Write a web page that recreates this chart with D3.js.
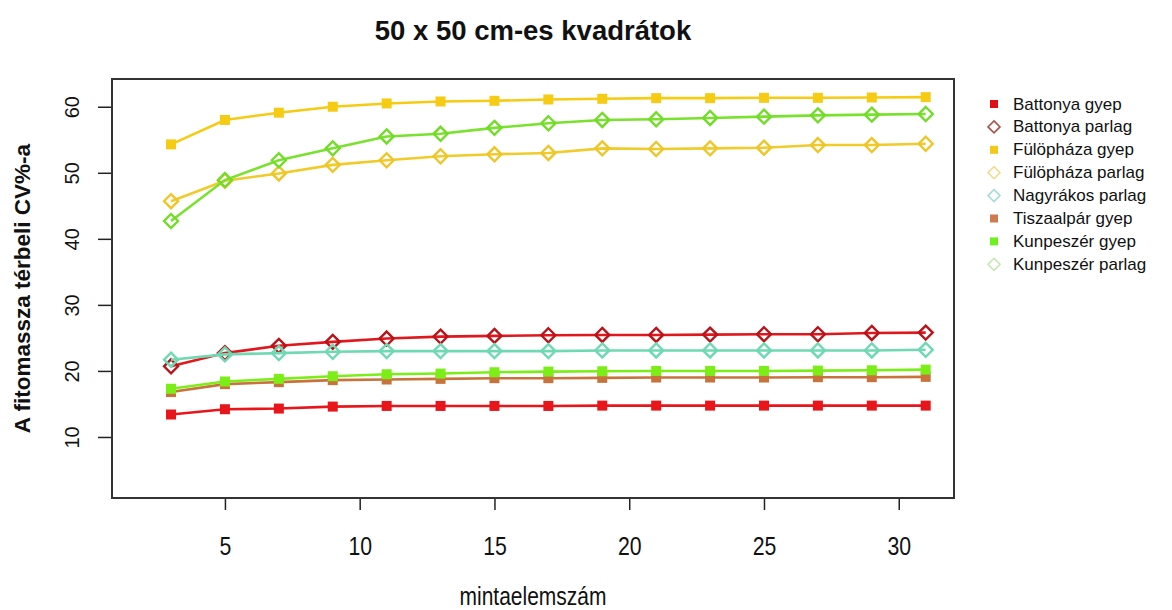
<!DOCTYPE html>
<html>
<head>
<meta charset="utf-8">
<script src="https://cdn.jsdelivr.net/npm/d3@7"></script>
<style>
  body { margin: 0; background: #fff; }
  svg { display: block; }
</style>
</head>
<body>
<svg id="chart" width="1172" height="610"></svg>
<script>
const title = "50 x 50 cm-es kvadrátok";
const xLabel = "mintaelemszám";
const yLabel = "A fitomassza térbeli CV%-a";
const sampleSizes = [3, 5, 7, 9, 11, 13, 15, 17, 19, 21, 23, 25, 27, 29, 31];
const xTicks = [5, 10, 15, 20, 25, 30];
const yTicks = [10, 20, 30, 40, 50, 60];

const seriesNames = ["Battonya gyep", "Battonya parlag", "Fülöpháza gyep", "Fülöpháza parlag",
  "Nagyrákos parlag", "Tiszaalpár gyep", "Kunpeszér gyep", "Kunpeszér parlag"];
const battonyaGyep    = [13.4, 14.2, 14.3, 14.6, 14.7, 14.7, 14.7, 14.7, 14.75, 14.75, 14.75, 14.75, 14.75, 14.75, 14.75];
const battonyaParlag  = [20.7, 22.7, 23.8, 24.4, 24.9, 25.2, 25.3, 25.4, 25.45, 25.45, 25.5, 25.55, 25.55, 25.75, 25.8];
const fulophazaGyep   = [54.3, 58.0, 59.1, 60.0, 60.5, 60.8, 60.9, 61.1, 61.2, 61.3, 61.3, 61.35, 61.35, 61.4, 61.45];
const fulophazaParlag = [45.7, 48.8, 49.9, 51.2, 51.9, 52.5, 52.8, 53.0, 53.7, 53.6, 53.7, 53.8, 54.2, 54.2, 54.4];
const nagyrakosParlag = [21.7, 22.5, 22.7, 22.9, 23.0, 23.0, 23.0, 23.0, 23.1, 23.1, 23.1, 23.1, 23.1, 23.1, 23.2];
const tiszaalparGyep  = [16.8, 18.0, 18.3, 18.6, 18.7, 18.8, 18.9, 18.9, 18.95, 19.0, 19.0, 19.0, 19.05, 19.05, 19.1];
const kunpeszerGyep   = [17.3, 18.4, 18.8, 19.2, 19.5, 19.6, 19.8, 19.9, 19.95, 20.0, 20.0, 20.0, 20.05, 20.1, 20.2];
const kunpeszerParlag = [42.7, 48.9, 51.9, 53.7, 55.5, 55.9, 56.8, 57.5, 58.0, 58.1, 58.3, 58.5, 58.7, 58.8, 58.9];

const seriesValues = [battonyaGyep, battonyaParlag, fulophazaGyep, fulophazaParlag,
  nagyrakosParlag, tiszaalparGyep, kunpeszerGyep, kunpeszerParlag];
const seriesShapes = ["square", "diamond", "square", "diamond", "diamond", "square", "square", "diamond"];
const lineColors   = ["#e8151b", "#e0181e", "#f6cb14", "#f0cb2a", "#6fd9b3", "#c8733c", "#7bee18", "#78e22c"];
const markColors   = ["#e8151b", "#b8141a", "#f6cb14", "#eec62a", "#6fd9b3", "#c8733c", "#7bee18", "#72dc28"];
const legendMarkColors = ["#e01019", "#a8554c", "#f2c81a", "#f0dc8c", "#a5ddd6", "#cf7b4f", "#6ef01e", "#c8e6b0"];

const svg = d3.select("#chart");
const mLeft = 112, mRight = 954, mTop = 79, mBottom = 498;

const x = d3.scaleLinear().domain([0.81, 32.05]).range([mLeft, mRight]);
const y = d3.scaleLinear().domain([0.76, 64.2]).range([mBottom, mTop]);

// Title
svg.append("text")
  .attr("x", (mLeft + mRight) / 2).attr("y", 40)
  .attr("text-anchor", "middle")
  .attr("font-family", "Liberation Sans, Arial, sans-serif")
  .attr("font-weight", "bold").attr("font-size", 27.5)
  .attr("fill", "#111").text(title);

// x axis
const xAxis = d3.axisBottom(x).tickValues(xTicks).tickSize(12).tickPadding(0).tickFormat(d3.format("d"));
const gx = svg.append("g").attr("transform", `translate(0,${mBottom})`).call(xAxis);
gx.select(".domain").remove();
gx.selectAll(".tick line").attr("stroke", "#222").attr("stroke-width", 1.5);
gx.selectAll(".tick text")
  .attr("y", null).attr("dy", null)
  .attr("transform", "translate(0,57) scale(0.85,1)")
  .attr("font-family", "Liberation Sans, Arial, sans-serif")
  .attr("font-size", 25).attr("fill", "#111");

// y axis
const yAxis = d3.axisLeft(y).tickValues(yTicks).tickSize(14).tickFormat(d3.format("d"));
const gy = svg.append("g").attr("transform", `translate(${mLeft},0)`).call(yAxis);
gy.select(".domain").remove();
gy.selectAll(".tick line").attr("stroke", "#222").attr("stroke-width", 1.5);
gy.selectAll(".tick text")
  .attr("x", null).attr("dy", null)
  .attr("transform", "translate(-40,0) rotate(-90)")
  .attr("text-anchor", "middle")
  .attr("dominant-baseline", "central")
  .attr("font-family", "Liberation Sans, Arial, sans-serif")
  .attr("font-size", 20).attr("fill", "#111");

// plot box
svg.append("rect").attr("x", mLeft).attr("y", mTop)
  .attr("width", mRight - mLeft).attr("height", mBottom - mTop)
  .attr("fill", "none").attr("stroke", "#333").attr("stroke-width", 2);

// axis titles
svg.append("text")
  .attr("transform", `translate(${(mLeft + mRight) / 2},605) scale(0.84,1)`)
  .attr("text-anchor", "middle")
  .attr("font-family", "Liberation Sans, Arial, sans-serif")
  .attr("font-size", 25).attr("fill", "#111").text(xLabel);

svg.append("text")
  .attr("transform", `translate(30,${(mTop + mBottom) / 2}) rotate(-90)`)
  .attr("text-anchor", "middle")
  .attr("font-family", "Liberation Sans, Arial, sans-serif")
  .attr("font-weight", "bold").attr("font-size", 22.5)
  .attr("fill", "#111").text(yLabel);

// series
const line = d3.line().x((d, i) => x(sampleSizes[i])).y(d => y(d));
const plotG = svg.append("g");

function drawMarker(g, shape, cx, cy, color, size, sw) {
  if (shape === "square") {
    g.append("rect").attr("x", cx - size / 2).attr("y", cy - size / 2)
      .attr("width", size).attr("height", size).attr("fill", color);
  } else {
    const r = size / 2;
    g.append("path")
      .attr("d", `M${cx},${cy - r}L${cx + r},${cy}L${cx},${cy + r}L${cx - r},${cy}Z`)
      .attr("fill", "none").attr("stroke", color).attr("stroke-width", sw);
  }
}

seriesValues.forEach((vals, si) => {
  const g = plotG.append("g");
  g.append("path").datum(vals)
    .attr("d", line).attr("fill", "none")
    .attr("stroke", lineColors[si]).attr("stroke-width", 2.6);
  vals.forEach((v, i) => {
    drawMarker(g, seriesShapes[si], x(sampleSizes[i]), y(v), markColors[si],
      seriesShapes[si] === "square" ? 10 : 14, 2.4);
  });
});

// legend
const legG = svg.append("g");
seriesNames.forEach((name, i) => {
  const ly = 104 + i * 22.9;
  drawMarker(legG, seriesShapes[i], 994, ly, legendMarkColors[i],
    seriesShapes[i] === "square" ? 8 : 12, 1.6);
  legG.append("text").attr("x", 1013).attr("y", ly)
    .attr("dominant-baseline", "central")
    .attr("font-family", "Liberation Sans, Arial, sans-serif")
    .attr("font-size", 17).attr("fill", "#111").text(name);
});
</script>
</body>
</html>
